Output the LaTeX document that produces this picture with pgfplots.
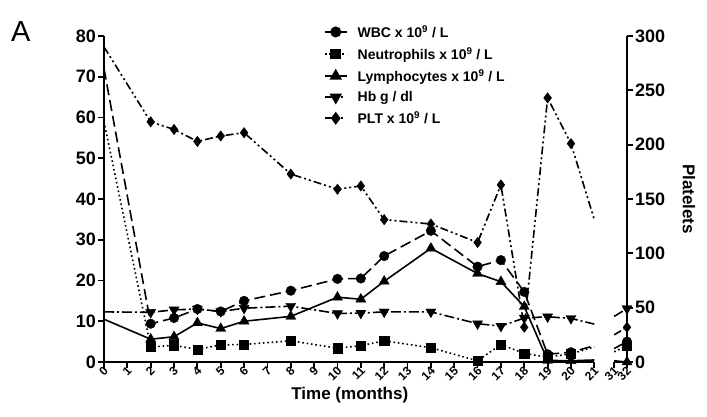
\documentclass[border=0pt]{standalone}
\usepackage{pgfplots}
\pgfplotsset{compat=1.18}
\usepackage{fontspec}
\setmainfont{Liberation Sans}
\begin{document}
\begin{tikzpicture}
\pgfplotsset{
  common/.style={scale only axis, width=523pt, height=326pt, xmin=0, xmax=22.4, clip=false,
    axis line style={line width=2pt}, tick align=outside, major tick length=6pt,
    every tick/.style={line width=1.8pt, black},
    /pgf/number format/assume math mode=true,
    yticklabel style={font=\bfseries\fontsize{18}{20}\selectfont, inner sep=2pt},
  },
  wbc/.style={black, line width=1.6pt, dash pattern=on 11pt off 5pt},
  neu/.style={black, line width=1.6pt, dash pattern=on 1.6pt off 2.8pt},
  lym/.style={black, line width=1.6pt, solid},
  hb/.style={black, line width=1.6pt, dash pattern=on 10pt off 3pt on 2pt off 3pt},
  plt/.style={black, line width=1.6pt, dash pattern=on 8pt off 3pt on 2pt off 3pt on 2pt off 3pt},
  wbcm/.style={only marks, mark=*, mark size=4.8pt, black, mark options={solid}},
  neum/.style={only marks, mark=square*, mark size=4.6pt, black, mark options={solid}},
  lymm/.style={only marks, mark=triangle*, mark size=5.8pt, black, mark options={solid}},
  hbm/.style={only marks, mark=triangle*, mark size=5.8pt, black, mark options={solid, rotate=180}},
  pltm/.style={only marks, mark=diamond*, mark size=5.2pt, black, mark options={solid}},
}
\begin{axis}[common,
  axis y line*=left, axis x line*=bottom,
  x axis line style={draw=none},
  ymin=0, ymax=80, ytick={0,10,...,80},
  xtick={0,1,2,3,4,5,6,7,8,9,10,11,12,13,14,15,16,17,18,19,20,21,21.85,22.4},
  xticklabels={0,1,2,3,4,5,6,7,8,9,10,11,12,13,14,15,16,17,18,19,20,21,31,32},
  xticklabel style={font=\bfseries\fontsize{12}{13}\selectfont, rotate=45, anchor=east, yshift=-2pt, xshift=2pt, inner sep=1pt},
  xlabel={Time (months)},
  xlabel style={font=\bfseries\fontsize{17}{19}\selectfont, at={(ticklabel cs:0.47)}, anchor=north, yshift=-1pt},
]
\coordinate (bl) at (rel axis cs:0,0);
\draw[line width=2pt] (axis cs:0,0) -- (axis cs:21,0);
\draw[line width=2pt] (axis cs:21.85,0) -- (axis cs:22.4,0);
% WBC
\addplot[wbc] coordinates {(0,72)(2,9.4)(3,10.8)(4,13)(5,12.4)(6,15)(8,17.5)(10,20.4)(11,20.5)(12,26)(14,32.2)(16,23.4)(17,25)(18,17.2)(19,1.9)(20,2.4)(21,4.0)};
\addplot[wbc] coordinates {(21.85,3.3)(22.4,5)};
\addplot[wbcm] coordinates {(2,9.4)(3,10.8)(4,13)(5,12.4)(6,15)(8,17.5)(10,20.4)(11,20.5)(12,26)(14,32.2)(16,23.4)(17,25)(18,17.2)(19,1.9)(20,2.4)(22.4,5)};
% Neutrophils
\addplot[neu] coordinates {(0,59)(2,3.7)(3,4.1)(4,3.1)(5,4.2)(6,4.3)(8,5.2)(10,3.4)(11,4.0)(12,5.2)(14,3.5)(16,0.3)(17,4.3)(18,2.1)(19,1.2)(20,2.0)(21,3.7)};
\addplot[neu] coordinates {(21.85,2.5)(22.4,4)};
\addplot[neum] coordinates {(2,3.7)(3,4.1)(4,3.1)(5,4.2)(6,4.3)(8,5.2)(10,3.4)(11,4.0)(12,5.2)(14,3.5)(16,0.3)(17,4.3)(18,2.1)(19,1.2)(20,2.0)(22.4,4)};
% Lymphocytes
\addplot[lym] coordinates {(0,10.5)(2,5.6)(3,6.2)(4,9.6)(5,8.2)(6,10)(8,11.2)(10,15.9)(11,15.4)(12,19.8)(14,27.9)(16,21.7)(17,19.7)(18,13.6)(19,0.4)(20,0.3)(21,0.5)};
\addplot[lym] coordinates {(21.85,0.3)(22.4,0)};
\addplot[lymm] coordinates {(2,5.6)(3,6.2)(4,9.6)(5,8.2)(6,10)(8,11.2)(10,15.9)(11,15.4)(12,19.8)(14,27.9)(16,21.7)(17,19.7)(18,13.6)(19,0.4)(20,0.3)(22.4,0)};
% Hb
\addplot[hb] coordinates {(0,12.3)(2,12.2)(3,12.8)(4,13)(5,12.4)(6,13.2)(8,13.7)(10,11.9)(11,12)(12,12.3)(14,12.3)(16,9.4)(17,8.8)(18,10.8)(19,11.1)(20,10.7)(21,9.3)};
\addplot[hb] coordinates {(21.85,11.2)(22.4,13.1)};
\addplot[hbm] coordinates {(2,12.2)(3,12.8)(4,13)(5,12.4)(6,13.2)(8,13.7)(10,11.9)(11,12)(12,12.3)(14,12.3)(16,9.4)(17,8.8)(18,10.8)(19,11.1)(20,10.7)(22.4,13.1)};
\end{axis}
\begin{axis}[common,
  axis y line*=right, axis x line=none,
  ymin=0, ymax=300, ytick={0,50,...,300},
  ylabel={Platelets},
  ylabel shift=12pt,
  ylabel style={font=\bfseries\fontsize{17}{19}\selectfont, rotate=180},
  legend style={at={(0.42,1.04)}, anchor=north west, draw=none, fill=none,
    font=\bfseries\fontsize{14}{16}\selectfont, row sep=4.5pt, inner sep=0pt},
  legend cell align=left,
  legend image code/.code={\draw[mark repeat=2,mark phase=2] plot coordinates {(0pt,0pt)(11pt,0pt)(22pt,0pt)};},
]
\addlegendimage{black, line width=1.8pt, dash pattern=on 7pt off 8pt on 7pt off 2pt, mark=*, mark size=4.6pt, mark options={solid}}
\addlegendentry{\hspace{8pt}WBC x 10\textsuperscript{9} / L}
\addlegendimage{black, line width=1.8pt, dash pattern=on 1.8pt off 2.6pt, mark=square*, mark size=4.4pt, mark options={solid}}
\addlegendentry{\hspace{8pt}Neutrophils x 10\textsuperscript{9} / L}
\addlegendimage{black, line width=1.8pt, solid, mark=triangle*, mark size=5.5pt, mark options={solid}}
\addlegendentry{\hspace{8pt}Lymphocytes x 10\textsuperscript{9} / L}
\addlegendimage{black, line width=1.8pt, dash pattern=on 7pt off 9pt on 2.5pt off 9pt, mark=triangle*, mark size=5.5pt, mark options={solid, rotate=180}}
\addlegendentry{\hspace{8pt}Hb g / dl}
\addlegendimage{black, line width=1.8pt, dash pattern=on 7pt off 9pt on 2.5pt off 9pt, mark=diamond*, mark size=5pt, mark options={solid}}
\addlegendentry{\hspace{8pt}PLT x 10\textsuperscript{9} / L}
\addplot[plt, forget plot] coordinates {(0,290)(2,221)(3,214)(4,203)(5,208)(6,211)(8,173)(10,159)(11,162)(12,131)(14,127)(16,110)(17,163)(18,32)(19,243)(20,201)(21,131)};
\addplot[plt, forget plot] coordinates {(21.85,25)(22.4,32)};
\addplot[pltm, forget plot] coordinates {(2,221)(3,214)(4,203)(5,208)(6,211)(8,173)(10,159)(11,162)(12,131)(14,127)(16,110)(17,163)(18,32)(19,243)(20,201)(22.4,32)};
\end{axis}
\node[anchor=base west, font=\fontsize{29}{31}\selectfont, inner sep=0pt] at ([xshift=-93pt,yshift=320pt]bl) {A};
\path (bl) ++(-104pt,-54pt) rectangle ++(707pt,416pt);
\end{tikzpicture}
\end{document}
